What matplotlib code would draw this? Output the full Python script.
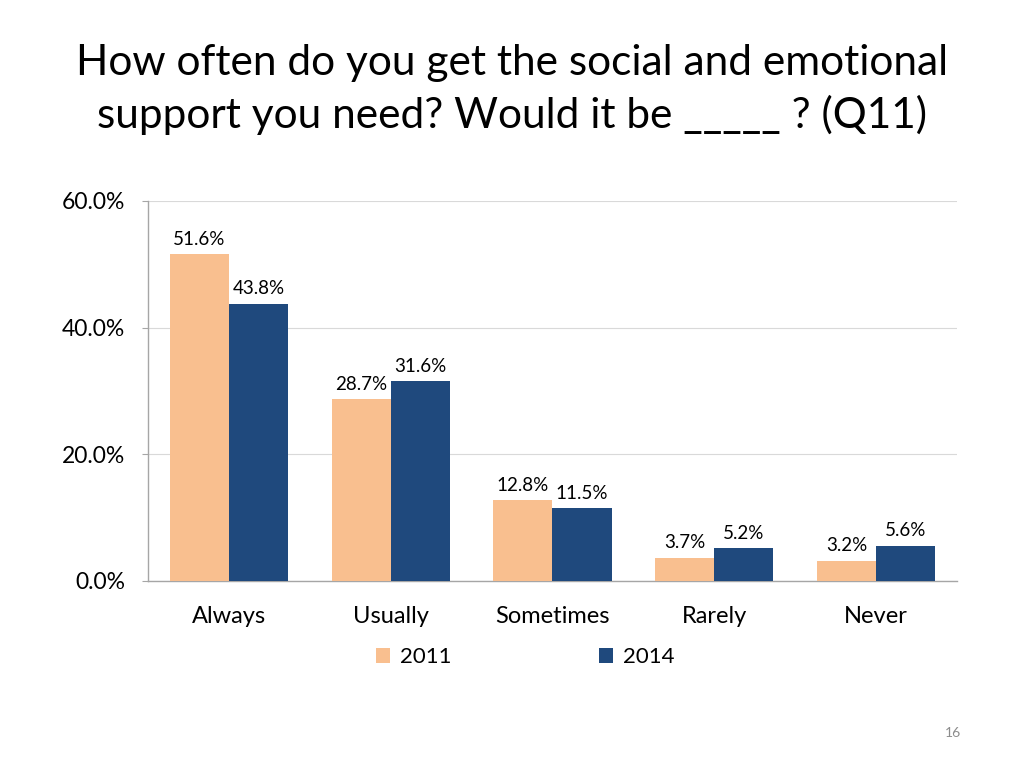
import matplotlib.pyplot as plt
import numpy as np

# Survey responses (Q11), share of respondents
categories = ["Always", "Usually", "Sometimes", "Rarely", "Never"]
years = ["2011", "2014"]
values_2011 = [51.6, 28.7, 12.8, 3.7, 3.2]
values_2014 = [43.8, 31.6, 11.5, 5.2, 5.6]
y_ticks = [0, 20, 40, 60]

color_2011 = "#F9BF8F"
color_2014 = "#1F497D"
grid_color = "#D9D9D9"
axis_color = "#A6A6A6"

plt.rcParams['font.family'] = ['Lato', 'DejaVu Sans']

fig = plt.figure(figsize=(10.24, 7.68), dpi=100)
ax = fig.add_axes([0.1445, 0.2435, 0.7901, 0.4948])

x = np.arange(len(categories))
w = 0.365
bars_a = ax.bar(x - w / 2, values_2011, w, color=color_2011, label=years[0], zorder=3)
bars_b = ax.bar(x + w / 2, values_2014, w, color=color_2014, label=years[1], zorder=3)

# value labels above each bar
for bars in (bars_a, bars_b):
    for b in bars:
        ax.annotate(f"{b.get_height():.1f}%",
                    (b.get_x() + b.get_width() / 2, b.get_height()),
                    xytext=(0, 4.5), textcoords="offset points",
                    ha="center", va="bottom", fontsize=13.5, color="#000000")

ax.set_xlim(-0.5, len(categories) - 0.5)
ax.set_ylim(0, 60)
ax.set_yticks(y_ticks)
ax.set_yticklabels([f"{t:.1f}%" for t in y_ticks], fontsize=16.5)
ax.set_xticks(x)
ax.set_xticklabels(categories, fontsize=17)
ax.tick_params(axis="x", length=0, pad=18)
ax.tick_params(axis="y", length=4.5, color=axis_color, pad=12)

ax.grid(axis="y", color=grid_color, linewidth=0.8, zorder=0)
for side in ("top", "right"):
    ax.spines[side].set_visible(False)
for side in ("left", "bottom"):
    ax.spines[side].set_color(axis_color)
    ax.spines[side].set_linewidth(1.0)

fig.legend(loc="center", bbox_to_anchor=(0.513, 0.144), ncol=2, frameon=False,
           fontsize=16, handlelength=0.65, handleheight=0.65, handletextpad=0.45,
           columnspacing=6.6)

fig.text(0.5, 0.883, "How often do you get the social and emotional\nsupport you need? Would it be _____ ? (Q11)",
         ha="center", va="center", fontsize=30.5, linespacing=1.38, color="#000000")

fig.text(0.931, 0.045, "16", ha="center", va="center", fontsize=10, color="#8C8C8C")

plt.savefig("out.png", dpi=100)
plt.close()
